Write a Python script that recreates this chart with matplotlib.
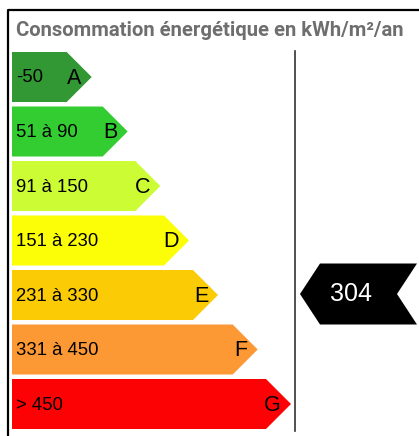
import matplotlib
matplotlib.use("Agg")
from matplotlib import pyplot as plt
from matplotlib.patches import Polygon

# --- data ---
classes = ["A", "B", "C", "D", "E", "F", "G"]
ranges = ["-50", "51 à 90", "91 à 150", "151 à 230", "231 à 330", "331 à 450", "> 450"]
upper = [50, 90, 150, 230, 330, 450, None]
colors = ["#319834", "#33cc31", "#cbfc34", "#fbfe06", "#fbcc05", "#fc9935", "#fc0205"]
value = 304
title = "Consommation énergétique en kWh/m²/an"

# --- layout (pixels) ---
W, H = 419, 436
x0 = 12
top0 = 52
pitch = 54.5
bar_h = 50
tips = [91.7, 127.7, 160.3, 189, 218, 257.7, 291]

fig = plt.figure(figsize=(W / 100, H / 100), dpi=100)
ax = fig.add_axes([0, 0, 1, 1])
ax.set_xlim(0, W)
ax.set_ylim(H, 0)
ax.axis("off")

# frame
ax.plot([8, 8, W + 5], [H + 5, 10, 10], color="black", lw=1.6, solid_capstyle="butt")

# title
ax.text(16, 30, title, color="#6e6e6e", fontsize=14.6, fontweight="bold",
        family="Roboto", va="center", ha="left")

for i, (c, r, col) in enumerate(zip(classes, ranges, colors)):
    t = top0 + i * pitch
    b = t + bar_h
    m = (t + b) / 2
    tip = tips[i]
    ax.add_patch(Polygon([(x0, t), (tip - bar_h / 2, t), (tip, m),
                          (tip - bar_h / 2, b), (x0, b)],
                         closed=True, facecolor=col, edgecolor="none"))
    ax.text(16, m + 1, r, fontsize=13.3, family="Liberation Sans",
            va="center", ha="left", color="black")
    ax.text(tip - 10, m + 1, c, fontsize=15.5, family="Liberation Sans",
            va="center", ha="right", color="black")

# divider
ax.plot([295, 295], [51, 431], color="#333333", lw=1.2)

# pointer for the value
row = next(i for i, u in enumerate(upper) if u is None or value <= u)
pm = top0 + row * pitch + bar_h / 2 - 1
ph = 30.5
px = 300
ax.add_patch(Polygon([(px, pm), (px + 20, pm - ph), (417, pm - ph), (397, pm),
                      (417, pm + ph), (px + 20, pm + ph)],
                     closed=True, facecolor="black", edgecolor="none"))
ax.text(351, pm, str(value), fontsize=18, family="Liberation Sans",
        color="white", va="center", ha="center")

fig.savefig("out.png", dpi=100)
